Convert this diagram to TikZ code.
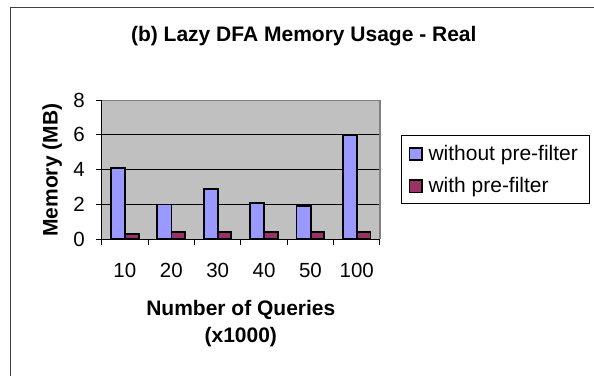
\documentclass[tikz,border=0pt]{standalone}
\usepackage{fontspec}
\setmainfont{Liberation Sans}
\definecolor{barblue}{HTML}{9999FF}
\definecolor{barplum}{HTML}{993366}
\definecolor{plotgray}{HTML}{C0C0C0}
\definecolor{edgegray}{HTML}{808080}
\begin{document}
\begin{tikzpicture}[x=1pt, y=-1pt,
  bar/.style={draw=black, line width=1.9pt},
  lbl/.style={inner sep=0pt, font=\fontsize{20.5}{24}\selectfont},
  ttl/.style={inner sep=0pt, font=\fontsize{21}{25}\selectfont\bfseries}]
  \useasboundingbox (0,0) rectangle (594,375);
  % chart frame, cut off at the right and bottom
  \draw[line width=1.5pt, black!75] (10.3,380) -- (10.3,7.3) -- (600,7.3);
  \node[ttl, anchor=base] (title) at (303.8,41.7) {(b) Lazy DFA Memory Usage - Real};

  \begin{scope}[shift={(101.7,239.3)}, x=46.38pt, y=17.4pt]
    \fill[plotgray] (0,0) rectangle (6,8);
    \foreach \v in {2,4,6} \draw[line width=0.9pt] (0,\v) -- (6,\v);
    \draw[edgegray, line width=1.2pt] (0,8) -- (6,8) -- (6,0);
    % bars: without / with pre-filter
    \foreach \i/\q/\a/\b in {0/10/4.1/0.3, 1/20/2.0/0.4, 2/30/2.9/0.4, 3/40/2.1/0.4, 4/50/1.9/0.4, 5/100/6.0/0.4} {
      \draw[bar, fill=barblue] (\i+0.2,0) rectangle (\i+0.505,\a);
      \draw[bar, fill=barplum] (\i+0.505,0) rectangle (\i+0.795,\b);
      \node[lbl, anchor=base] (q\i) at ([yshift=-38pt]\i+0.5,0) {\q};
    }
    \draw[line width=1pt] (0,8) -- (0,0) -- (6,0);
    \foreach \v in {0,2,4,6,8} {
      \draw[line width=1pt] (0,\v) -- ++(-6pt,0);
      \node[lbl, anchor=east] (m\v) at ([xshift=-16.7pt]0,\v) {\v};
    }
    \foreach \i in {0,...,6} \draw[line width=1pt] (\i,0) -- ++(0,-6pt);
  \end{scope}

  \node[ttl, rotate=90, anchor=base] (ytitle) at (57.5,170.3) {Memory (MB)};
  \node[ttl, anchor=base] (xtitle) at (240.8,315) {Number of Queries};
  \node[ttl, anchor=base] (xunit) at (240.8,342.3) {(x1000)};

  % legend
  \draw[line width=0.8pt] (401.7,135.7) rectangle (589.3,203.3);
  \draw[bar, fill=barblue] (409.5,148.3) rectangle (421.7,160.3);
  \draw[bar, fill=barplum] (409.5,180.3) rectangle (421.7,192.5);
  \node[lbl, font=\fontsize{21}{25}\selectfont, anchor=base west] (without) at (428.3,160) {without pre-filter};
  \node[lbl, font=\fontsize{21}{25}\selectfont, anchor=base west] (with) at (428.3,192.7) {with pre-filter};
\end{tikzpicture}
\end{document}
